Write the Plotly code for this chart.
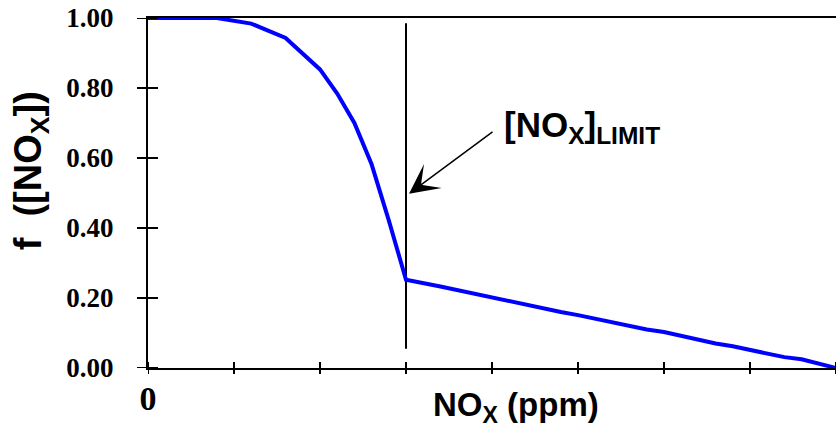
import plotly.graph_objects as go

# ---- data ----
nox = [0.0, 0.8, 1.2, 1.6, 2.0, 2.2, 2.4, 2.6, 2.8, 3.0,
       3.4, 4.0, 4.2, 4.8, 5.0, 5.8, 6.0, 6.6, 6.8, 7.4, 7.6, 8.0]
f_nox = [1.00, 1.00, 0.984, 0.943, 0.853, 0.784, 0.700, 0.582, 0.422, 0.252,
         0.233, 0.201, 0.193, 0.160, 0.151, 0.110, 0.103, 0.070, 0.062, 0.031, 0.025, 0.0]

limit_x = [3.0, 3.0]
limit_y = [0.055, 0.985]

x_tickvals = [0, 1, 2, 3, 4, 5, 6, 7, 8]
x_ticktext = ["0", "", "", "", "", "", "", "", ""]
y_tickvals = [0.0, 0.2, 0.4, 0.6, 0.8, 1.0]
y_ticktext = ["0.00", "0.20", "0.40", "0.60", "0.80", "1.00"]

SANS = "Liberation Sans, Arial, sans-serif"
SERIF = "Liberation Serif, Times New Roman, serif"

W, H = 836, 432
ML, MR, MT, MB = 148, 0, 17.7, 64.3
PW = W - ML - MR
PH = H - MT - MB

fig = go.Figure()
fig.add_trace(go.Scatter(x=limit_x, y=limit_y, mode="lines",
                         line=dict(color="black", width=2), hoverinfo="skip",
                         showlegend=False))
fig.add_trace(go.Scatter(x=nox, y=f_nox, mode="lines",
                         line=dict(color="#0000FF", width=4), showlegend=False))

fig.update_layout(
    width=W, height=H,
    margin=dict(l=ML, r=MR, t=MT, b=MB),
    paper_bgcolor="white", plot_bgcolor="white",
    showlegend=False,
    xaxis=dict(range=[0, 8], tickvals=x_tickvals, ticktext=x_ticktext,
               ticks="outside", ticklen=6, tickwidth=2, tickcolor="rgba(0,0,0,0)",
               showline=True, linecolor="black", linewidth=2, mirror=True,
               showgrid=False, zeroline=False, ticklabelstandoff=-7,
               tickfont=dict(family=SERIF, size=34, color="black", weight="bold")),
    yaxis=dict(range=[0, 1], tickvals=y_tickvals, ticktext=y_ticktext,
               ticks="outside", ticklen=11, tickwidth=2, tickcolor="rgba(0,0,0,0)",
               showline=True, linecolor="black", linewidth=2,
               showgrid=False, zeroline=False, ticklabelstandoff=16,
               tickfont=dict(family=SERIF, size=27, color="black", weight="bold")),
)

# tick marks crossing the axis lines (paper offsets, values on the axes' scales)
for v in y_tickvals:
    fig.add_shape(type="line", xref="paper", yref="y",
                  x0=-11 / PW, x1=10 / PW, y0=v, y1=v,
                  line=dict(color="black", width=2), layer="above")
for v in x_tickvals:
    fig.add_shape(type="line", xref="x", yref="paper",
                  x0=v, x1=v, y0=-6 / PH, y1=6 / PH,
                  line=dict(color="black", width=2), layer="above")

fig.add_annotation(text="NO<sub>X</sub> (ppm)", xref="paper", yref="paper",
                   x=(431 - 148) / 688, y=-0.045, xanchor="left", yanchor="top",
                   showarrow=False,
                   font=dict(family=SANS, size=33, color="black", weight="bold"))
fig.add_annotation(text="f\u00a0\u00a0([NO<sub>X</sub>])", xref="paper", yref="paper",
                   x=-0.170, y=0.562, xanchor="center", yanchor="middle",
                   textangle=-90, showarrow=False,
                   font=dict(family=SANS, size=38, color="black", weight="bold"))

fig.add_annotation(text="[NO<sub>X</sub>]<sub>LIMIT</sub>", xref="paper", yref="paper",
                   x=(502 - 148) / 688, y=0.69, xanchor="left", yanchor="middle",
                   showarrow=False,
                   font=dict(family=SANS, size=35, color="black", weight="bold"))
fig.add_annotation(text="", x=3.035, y=0.498, xref="x", yref="y",
                   ax=85, ay=-63, showarrow=True, arrowhead=3,
                   arrowsize=3.3, arrowwidth=1.5, arrowcolor="black")

fig.write_html("out.html", post_script="document.body.style.margin='0';",
               config={"displayModeBar": False})
